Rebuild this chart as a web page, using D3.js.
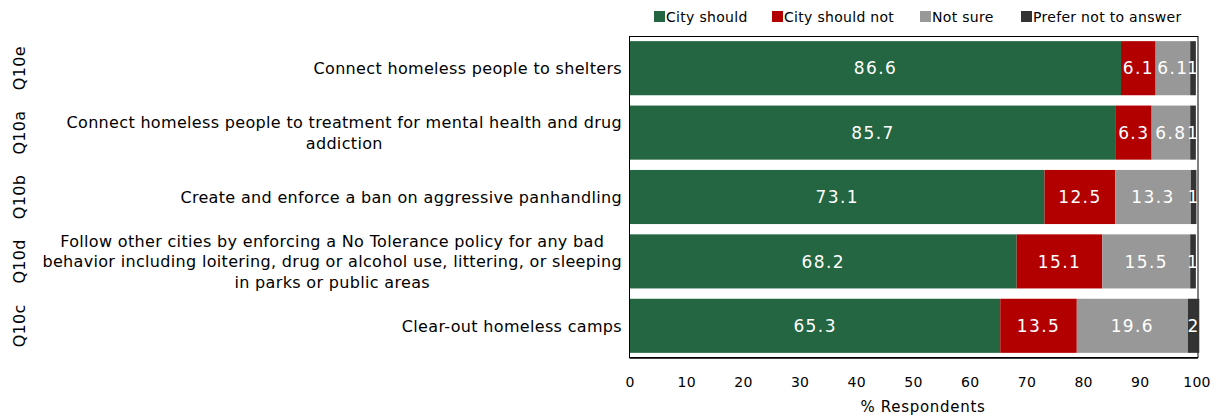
<!DOCTYPE html>
<html>
<head>
<meta charset="utf-8">
<script src="https://cdn.jsdelivr.net/npm/d3@7"></script>
<style>
  html, body { margin: 0; padding: 0; background: #fff; }
  svg { display: block; font-family: "DejaVu Sans", sans-serif; }
</style>
</head>
<body>
<svg id="chart" width="1217" height="418"></svg>
<script>
// Question codes, top to bottom
const codes = ["Q10e", "Q10a", "Q10b", "Q10d", "Q10c"];

// Statement text, pre-wrapped into lines
const statements = [
  ["Connect homeless people to shelters"],
  ["Connect homeless people to treatment for mental health and drug", "addiction"],
  ["Create and enforce a ban on aggressive panhandling"],
  ["Follow other cities by enforcing a No Tolerance policy for any bad",
   "behavior including loitering, drug or alcohol use, littering, or sleeping",
   "in parks or public areas"],
  ["Clear-out homeless camps"]
];

// Response series (% respondents)
const seriesNames = ["City should", "City should not", "Not sure", "Prefer not to answer"];
const cityShould    = [86.6, 85.7, 73.1, 68.2, 65.3];
const cityShouldNot = [6.1, 6.3, 12.5, 15.1, 13.5];
const notSure       = [6.1, 6.8, 13.3, 15.5, 19.6];
const preferNot     = [1, 1, 1, 1, 2];

const xTicks = [0, 10, 20, 30, 40, 50, 60, 70, 80, 90, 100];
const xTitle = "% Respondents";

const colors = ["#236641", "#b20000", "#989898", "#333333"];

const rows = codes.map((c, i) => ({
  code: c,
  lines: statements[i],
  "City should": cityShould[i],
  "City should not": cityShouldNot[i],
  "Not sure": notSure[i],
  "Prefer not to answer": preferNot[i]
}));

const svg = d3.select("#chart");
const plot = { left: 630, right: 1197, top: 36, bottom: 358 };

const x = d3.scaleLinear().domain([0, 100]).range([plot.left, plot.right]);
const y = d3.scaleBand().domain(codes).range([plot.top, plot.bottom])
  .paddingInner(0.16).paddingOuter(0.08);
const color = d3.scaleOrdinal().domain(seriesNames).range(colors);

const stacked = d3.stack().keys(seriesNames)(rows);

// Plot frame
svg.append("rect")
  .attr("x", plot.left - 0.5).attr("y", plot.top + 0.5)
  .attr("width", plot.right - plot.left + 1.5).attr("height", plot.bottom - plot.top - 1)
  .attr("fill", "none").attr("stroke", "#000").attr("stroke-width", 1);

// Bars
const layer = svg.append("g").selectAll("g").data(stacked).join("g")
  .attr("fill", d => color(d.key));
layer.selectAll("rect").data(d => d).join("rect")
  .attr("x", d => x(d[0]))
  .attr("y", d => y(d.data.code))
  .attr("width", d => x(d[1]) - x(d[0]))
  .attr("height", y.bandwidth());

// Value labels, centred in each segment
const valLayer = svg.append("g").selectAll("g").data(stacked).join("g");
valLayer.selectAll("text").data(d => d.map(v => ({ v, key: d.key }))).join("text")
  .attr("x", d => (x(d.v[0]) + x(d.v[1])) / 2)
  .attr("y", d => y(d.v.data.code) + y.bandwidth() / 2)
  .attr("dy", "0.36em")
  .attr("text-anchor", "middle")
  .attr("fill", "#fff")
  .attr("font-size", 17)
  .attr("letter-spacing", 1.4)
  .text(d => d.v.data[d.key]);

// Bottom axis line
svg.append("line")
  .attr("x1", plot.left - 0.5).attr("x2", plot.right + 1)
  .attr("y1", plot.bottom).attr("y2", plot.bottom)
  .attr("stroke", "#000").attr("stroke-width", 1.5);

// X tick labels
svg.append("g").selectAll("text").data(xTicks).join("text")
  .attr("x", d => x(d))
  .attr("y", 387)
  .attr("text-anchor", "middle")
  .attr("font-size", 14)
  .attr("letter-spacing", 0.3)
  .attr("fill", "#000")
  .text(d => d);

svg.append("text")
  .attr("x", 923)
  .attr("y", 412)
  .attr("text-anchor", "middle")
  .attr("font-size", 15)
  .attr("letter-spacing", 0.7)
  .attr("fill", "#000")
  .text(xTitle);

// Statement labels: each block right-aligned, lines centred within the block
const labelRight = 622;
const lineH = 20.5;
const labelG = svg.append("g");
rows.forEach(r => {
  const g = labelG.append("g");
  const cy = y(r.code) + y.bandwidth() / 2;
  const n = r.lines.length;
  const texts = r.lines.map((line, j) => g.append("text")
    .attr("y", cy + (j - (n - 1) / 2) * lineH)
    .attr("dy", "0.36em")
    .attr("text-anchor", "middle")
    .attr("font-size", 16)
    .attr("letter-spacing", 0.33)
    .attr("fill", "#000")
    .text(line));
  const maxW = d3.max(texts, t => t.node().getComputedTextLength());
  texts.forEach(t => t.attr("x", labelRight - maxW / 2));
});

// Rotated question codes
svg.append("g").selectAll("text").data(codes).join("text")
  .attr("transform", d => `translate(25,${y(d) + y.bandwidth() / 2}) rotate(-90)`)
  .attr("text-anchor", "middle")
  .attr("font-size", 16)
  .attr("letter-spacing", 0.3)
  .attr("fill", "#000")
  .text(d => d);

// Legend
const legendX = [654, 772, 920, 1021];
const legend = svg.append("g").selectAll("g").data(seriesNames).join("g")
  .attr("transform", (d, i) => `translate(${legendX[i]},11)`);
legend.append("rect").attr("width", 11).attr("height", 11).attr("fill", d => color(d));
legend.append("text").attr("x", 12).attr("y", 11)
  .attr("font-size", 14).attr("letter-spacing", 0.3)
  .attr("fill", "#000").text(d => d);
</script>
</body>
</html>
